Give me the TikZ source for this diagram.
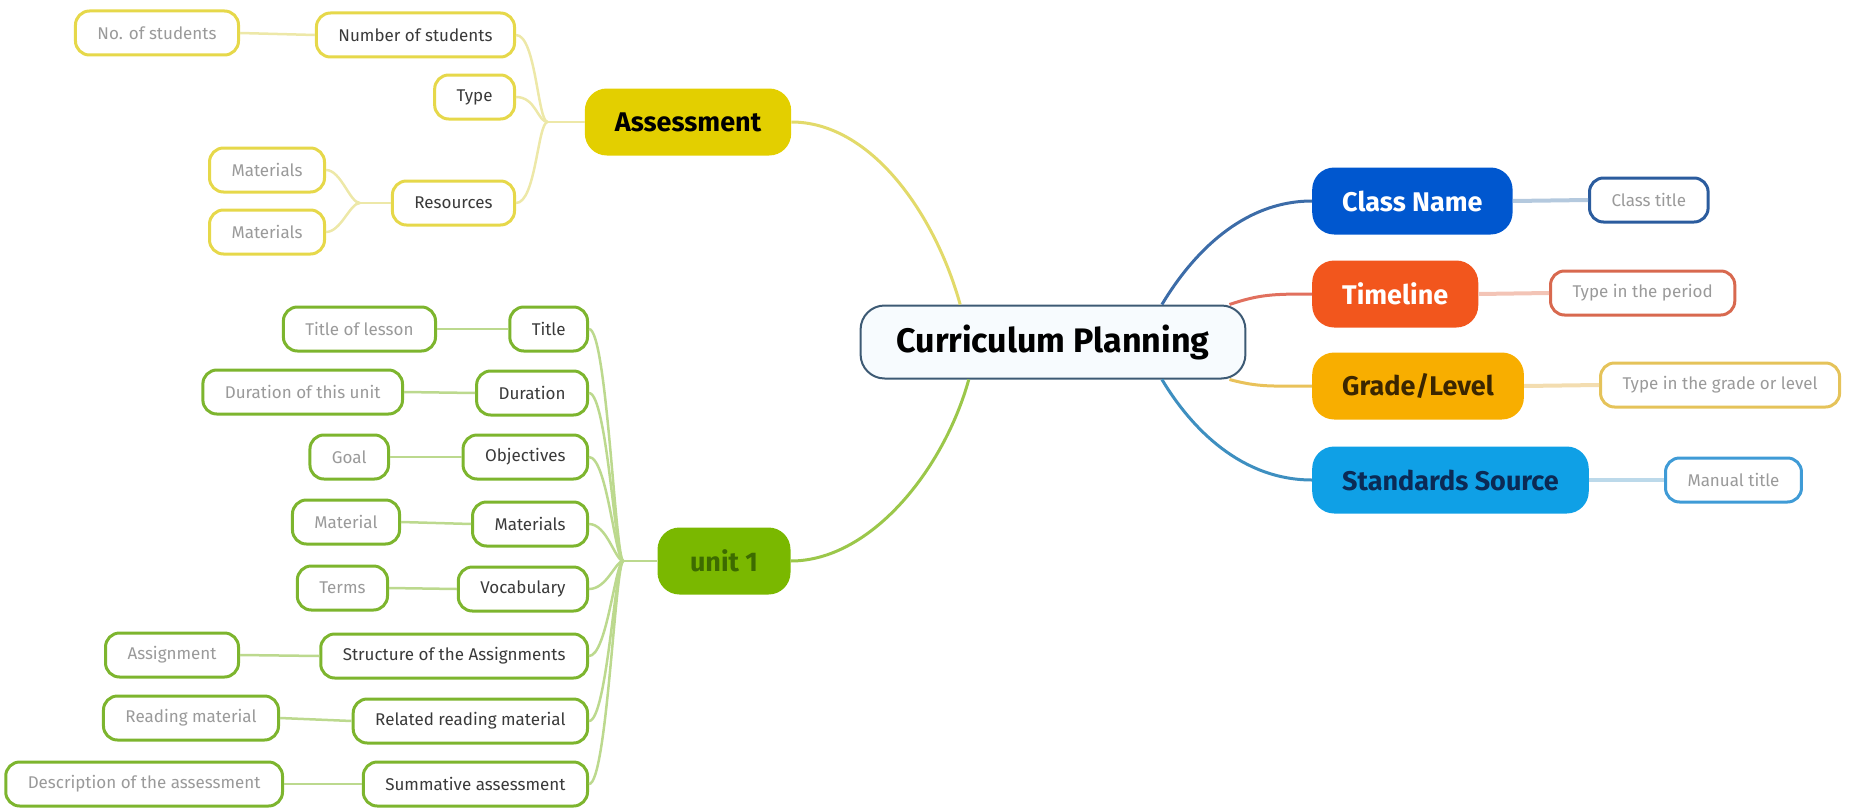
\documentclass[tikz,border=0pt]{standalone}
\usepackage{fontspec}
\setmainfont{Fira Sans}
\definecolor{ylwfill}{HTML}{E3CF00}
\definecolor{ylwbox}{HTML}{E6D84A}
\definecolor{ylwline}{HTML}{E2DA6A}
\definecolor{ylwlink}{HTML}{EDE8A8}
\definecolor{grnfill}{HTML}{7AB800}
\definecolor{grntext}{HTML}{3D6B00}
\definecolor{grnbox}{HTML}{7DB52E}
\definecolor{grnline}{HTML}{9BC74A}
\definecolor{grnlink}{HTML}{BCD98E}
\definecolor{blufill}{HTML}{0057CF}
\definecolor{blubox}{HTML}{2B5C9E}
\definecolor{bluline}{HTML}{3C6CA8}
\definecolor{blulink}{HTML}{B4C9DE}
\definecolor{redfill}{HTML}{F2561D}
\definecolor{redbox}{HTML}{D8694F}
\definecolor{redline}{HTML}{E1705E}
\definecolor{redlink}{HTML}{F3C4B6}
\definecolor{orgfill}{HTML}{F8AE00}
\definecolor{orgtext}{HTML}{3B2600}
\definecolor{orgbox}{HTML}{E5C35A}
\definecolor{orgline}{HTML}{E9C25A}
\definecolor{orglink}{HTML}{F3DDB0}
\definecolor{cyafill}{HTML}{0FA0E6}
\definecolor{cyatext}{HTML}{0B2A55}
\definecolor{cyabox}{HTML}{3F9BD6}
\definecolor{cyaline}{HTML}{3E8FC0}
\definecolor{cyalink}{HTML}{BCD9EA}
\definecolor{cpline}{HTML}{3D5A74}
\definecolor{cpfill}{HTML}{F7FBFE}
\definecolor{subtext}{HTML}{3A3A3A}
\definecolor{leaftext}{HTML}{9A9A9A}
\tikzset{
  topic/.style={draw=cpline, fill=cpfill, line width=2pt, rounded corners=24pt,
    minimum height=73pt, inner xsep=36pt, font=\fontsize{34}{40}\selectfont\bfseries},
  branch/.style={rounded corners=22pt, minimum height=67pt, inner xsep=30pt,
    font=\fontsize{27}{32}\selectfont\bfseries},
  box/.style={draw=#1, fill=white, line width=3pt, rounded corners=14pt,
    minimum height=44pt, inner xsep=22pt, font=\fontsize{17}{20}\selectfont},
  sub/.style={box=#1, text=subtext},
  leaf/.style={box=#1, text=leaftext},
  link/.style={draw=#1, line width=3pt},
  leaflink/.style={draw=#1, line width=2.5pt},
  sidelink/.style={draw=#1, line width=4pt}
}
\begin{document}
\begin{tikzpicture}[x=1pt,y=-1pt]
  \useasboundingbox (0,0) rectangle (1854,808);

  % Tema central
  \node[topic] (cp) at (1053,342) {Curriculum Planning};

  % Ramas principales
  \node[branch, fill=ylwfill, text=black] (asm) at (688,122) {Assessment};
  \node[branch, fill=grnfill, text=grntext, minimum width=133pt] (unit) at (724,561) {unit 1};
  \node[branch, fill=blufill, text=white, anchor=west] (cn) at (1312,201) {Class Name};
  \node[branch, fill=redfill, text=white, anchor=west] (tl) at (1312,294) {Timeline};
  \node[branch, fill=orgfill, text=orgtext, anchor=west] (gl) at (1312,386) {Grade/Level};
  \node[branch, fill=cyafill, text=cyatext, anchor=west] (ss) at (1312,480) {Standards Source};

  % Hojas de la derecha
  \node[leaf=blubox, anchor=west] (ct) at (1588,200) {Class title};
  \node[leaf=redbox, anchor=west] (tp) at (1549,293) {Type in the period};
  \node[leaf=orgbox, anchor=west] (tg) at (1599,385) {Type in the grade or level};
  \node[leaf=cyabox, anchor=west] (mt) at (1664,480) {Manual title};

  % Subtemas de Assessment
  \node[sub=ylwbox, anchor=east] (nos) at (516,35) {Number of students};
  \node[sub=ylwbox, anchor=east] (type) at (516,97) {Type};
  \node[sub=ylwbox, anchor=east] (res) at (516,203) {Resources};
  \node[leaf=ylwbox, anchor=east] (nostu) at (240,33) {No. of students};
  \node[leaf=ylwbox, anchor=east] (mat1) at (326,170) {Materials};
  \node[leaf=ylwbox, anchor=east] (mat2) at (326,232) {Materials};

  % Subtemas de unit 1
  \node[sub=grnbox, anchor=east] (title) at (589,329) {Title};
  \node[sub=grnbox, anchor=east] (dur) at (589,393) {Duration};
  \node[sub=grnbox, anchor=east] (obj) at (589,457) {Objectives};
  \node[sub=grnbox, anchor=east] (mats) at (589,524) {Materials};
  \node[sub=grnbox, anchor=east] (voc) at (589,589) {Vocabulary};
  \node[sub=grnbox, anchor=east] (struct) at (589,656) {Structure of the Assignments};
  \node[sub=grnbox, anchor=east] (read) at (589,721) {Related reading material};
  \node[sub=grnbox, anchor=east] (summ) at (589,784) {Summative assessment};
  \node[leaf=grnbox, anchor=east] (lesson) at (437,329) {Title of lesson};
  \node[leaf=grnbox, anchor=east] (durunit) at (404,392) {Duration of this unit};
  \node[leaf=grnbox, anchor=east] (goal) at (390,457) {Goal};
  \node[leaf=grnbox, anchor=east] (mat) at (401,522) {Material};
  \node[leaf=grnbox, anchor=east] (terms) at (389,588) {Terms};
  \node[leaf=grnbox, anchor=east] (assign) at (240,655) {Assignment};
  \node[leaf=grnbox, anchor=east] (reading) at (280,718) {Reading material};
  \node[leaf=grnbox, anchor=east] (desc) at (284,784) {Description of the assessment};

  % Conectores del tema central
  \draw[link=ylwline] (cp.158) .. controls +(-25,-90) and +(80,0) .. (asm.east);
  \draw[link=grnline] (cp.204) .. controls +(-25,90) and +(80,0) .. (unit.east);
  \draw[link=bluline] (cp.19) .. controls +(30,-50) and +(-70,0) .. (cn.west);
  \draw[link=redline] (cp.12) .. controls +(30,-10) and +(-40,0) .. (tl.west);
  \draw[link=orgline] (cp.-12) .. controls +(30,8) and +(-40,0) .. (gl.west);
  \draw[link=cyaline] (cp.-19) .. controls +(30,50) and +(-70,0) .. (ss.west);

  % Conectores a las hojas de la derecha
  \draw[sidelink=blulink] (cn.east) -- (ct.west);
  \draw[sidelink=redlink] (tl.east) -- (tp.west);
  \draw[sidelink=orglink] (gl.east) -- (tg.west);
  \draw[sidelink=cyalink] (ss.east) -- (mt.west);

  % Conectores de Assessment
  \coordinate (aj) at ([xshift=-37pt]asm.west);
  \coordinate (rj) at ([xshift=-31pt]res.west);
  \draw[leaflink=ylwlink] (asm.west) -- (aj);
  \foreach \n in {nos,type,res}
    \draw[leaflink=ylwlink] (aj) .. controls +(-10,0) and +(20,0) .. (\n.east);
  \draw[leaflink=ylwlink] (res.west) -- (rj);
  \foreach \n in {mat1,mat2}
    \draw[leaflink=ylwlink] (rj) .. controls +(-10,0) and +(15,0) .. (\n.east);
  \draw[leaflink=ylwlink] (nos.west) -- (nostu.east);

  % Conectores de unit 1
  \coordinate (uj) at ([xshift=-34pt]unit.west);
  \draw[leaflink=grnlink] (unit.west) -- (uj);
  \foreach \n in {title,dur,obj,mats,voc,struct,read,summ}
    \draw[leaflink=grnlink] (uj) .. controls +(-8,0) and +(18,0) .. (\n.east);
  \foreach \a/\b in {title/lesson,dur/durunit,obj/goal,mats/mat,voc/terms,struct/assign,read/reading,summ/desc}
    \draw[leaflink=grnlink] (\a.west) -- (\b.east);
\end{tikzpicture}
\end{document}
